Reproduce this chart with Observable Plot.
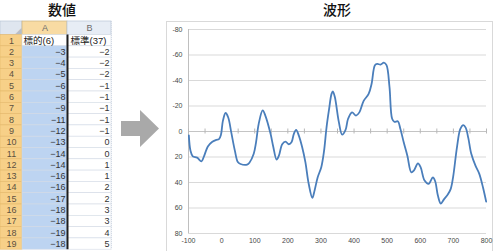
<!DOCTYPE html>
<html>
<head>
<meta charset="utf-8">
<script src="https://cdn.jsdelivr.net/npm/d3@7"></script>
<script src="https://cdn.jsdelivr.net/npm/@observablehq/plot@0.6"></script>
<style>
  body { margin: 0; background: #fff; }
  #root { position: relative; width: 500px; height: 251px; overflow: hidden; background: #fff; }
  .title { position: absolute; top: 2px; width: 60px; text-align: center; font-family: "Noto Sans CJK JP", sans-serif; font-size: 14px; line-height: 14px; font-weight: 500; color: #111; }
  #sheet { position: absolute; left: 0; top: 0; }
  #chartbox { position: absolute; left: 166px; top: 21px; width: 327px; height: 240px; box-sizing: border-box; border: 1px solid #d9d9d9; }
  #chart { position: absolute; left: 166px; top: 21px; }
  #arrow { position: absolute; left: 0; top: 0; }
</style>
</head>
<body>
<div id="root">
  <div class="title" style="left:32px">数値</div>
  <div class="title" style="left:307px">波形</div>
  <div id="sheet"></div>
  <svg id="arrow" width="500" height="251"><polygon points="121,121 140,121 140,110 159,128.5 140,147 140,136 121,136" fill="#a9a9a9"/></svg>
  <div id="chartbox"></div>
  <div id="chart"></div>
</div>
<script>
// ---- spreadsheet data ----
const rowNumbers = [1, 2, 3, 4, 5, 6, 7, 8, 9, 10, 11, 12, 13, 14, 15, 16, 17, 18, 19];
const colLetters = ["A", "B"];
const colA = ["標的(6)", -3, -4, -5, -6, -8, -9, -11, -12, -13, -14, -14, -16, -16, -17, -18, -18, -19, -18];
const colB = ["標準(37)", -2, -2, -2, -1, -1, -1, -1, -1, 0, 0, 1, 1, 2, 2, 3, 3, 4, 5];

// ---- waveform data ----
const waveX = [-99, -94, -87, -74, -61, -54, -41, -28, -16, -8, -2, 4, 12, 20, 29, 40, 49, 57, 77, 84, 97, 104, 112, 124, 132, 148, 156, 166, 173, 183, 193, 203, 211, 218, 225, 233, 243, 253, 263, 274, 281, 290, 301, 309, 317, 324, 332, 336, 342, 354, 364, 374, 382, 394, 406, 416, 429, 444, 453, 463, 470, 480, 490, 498, 507, 515, 522, 532, 540, 550, 561, 573, 581, 593, 601, 613, 625, 638, 645, 653, 662, 672, 683, 692, 699, 711, 721, 730, 737, 745, 754, 767, 778, 790, 799];
const waveY = [3, 15, 19.5, 20.5, 23.5, 20, 11.5, 8, 6.5, 6, 2.5, -8.5, -14.5, -11, 0.5, 15, 24, 25.5, 26, 24.5, 17.5, 8.5, -6, -16.5, -12.5, 2, 12, 22, 19, 10, 8, 10, 8.5, 2, -1.3, 3, 12, 24, 41, 52, 46, 36, 28, 16, -3.5, -16.5, -29.5, -31.5, -27, -7.5, 2.5, -1, -10, -15, -12.5, -15, -24, -29.5, -37.5, -52, -53, -52.5, -54, -52, -35, -10, -7.5, -8, -2, 8.5, 19, 32, 30.5, 25, 28, 38.5, 41, 36, 39, 50, 56.5, 53, 49.5, 45, 36, 12, -2, -5, -3, 5, 17.5, 27, 33, 44.5, 55];

const xTicks = [-100, 0, 100, 200, 300, 400, 500, 600, 700, 800];
const yTicks = [-80, -60, -40, -20, 0, 20, 40, 60, 80];
const axisTicks = [-100, -50, 0, 50, 100, 150, 200, 250, 300, 350, 400, 450, 500, 550, 600, 650, 700, 750, 800];

// ---- spreadsheet drawing ----
const rowsData = rowNumbers.map((r, i) => ({row: r, a: colA[i], b: colB[i]}));
const numRows = rowsData.filter(d => typeof d.a === "number");
const hdrRows = rowsData.filter(d => typeof d.a === "string");
const fmt = n => n < 0 ? "\u2212" + Math.abs(n) : String(n);
const lastRow = rowNumbers[rowNumbers.length - 1] + 1;

const sheet = Plot.plot({
  width: 112, height: 251,
  margin: 0,
  style: {fontFamily: "'Liberation Sans', 'Noto Sans CJK JP', sans-serif", fontSize: "9px", background: "transparent", overflow: "visible"},
  x: {type: "linear", domain: [0, 1, 2, 3], range: [0, 22, 67, 111], axis: null},
  y: {type: "linear", domain: [0, 1, 20], range: [21, 34.5, 249.2], axis: null},
  marks: [
    // corner
    Plot.rect([0], {x1: 0, x2: 1, y1: 0, y2: 1, fill: "#dfe6ef", stroke: "#b9c6d6", strokeWidth: 0.7}),
    Plot.text(["\u25E2"], {x: 1, y: 1, dx: -4, dy: -4, fill: "#b4bdc9", fontSize: 6}),
    // column headers
    Plot.rect(colLetters.filter(c => c === "A"), {x1: 1, x2: 2, y1: 0, y2: 1, fill: "#f8dba3", stroke: "#c9b27f", strokeWidth: 0.7}),
    Plot.rect(colLetters.filter(c => c === "B"), {x1: 2, x2: 3, y1: 0, y2: 1, fill: "#e7edf5", stroke: "#b9c6d6", strokeWidth: 0.7}),
    Plot.text(colLetters, {x: (d, i) => i + 1.5, y: 0.5, text: d => d, fill: "#6b6b6b", fontSize: 9}),
    // row headers
    Plot.rect(rowNumbers, {x1: 0, x2: 1, y1: d => d, y2: d => d + 1, fill: "#f7d088", stroke: "#e4b86a", strokeWidth: 0.6}),
    Plot.text(rowNumbers, {x: 0.5, y: d => d + 0.5, text: d => String(d), fill: "#5c5040", fontSize: 9}),
    // cells
    Plot.rect(rowsData, {x1: 1, x2: 2, y1: "row", y2: d => d.row + 1, fill: d => typeof d.a === "string" ? "#ffffff" : "#bdd4f1", stroke: "#d3dae5", strokeWidth: 0.6}),
    Plot.rect(rowsData, {x1: 2, x2: 3, y1: "row", y2: d => d.row + 1, fill: "#ffffff", stroke: "#d3dae5", strokeWidth: 0.6}),
    // header labels in row 1
    Plot.text(hdrRows, {x: 1, y: d => d.row + 0.5, text: "a", textAnchor: "start", dx: 1, fill: "#222", fontSize: 9.5}),
    Plot.text(hdrRows, {x: 2, y: d => d.row + 0.5, text: "b", textAnchor: "start", dx: 3, fill: "#222", fontSize: 9.5}),
    // numeric values
    Plot.text(numRows, {x: 2, y: d => d.row + 0.5, text: d => fmt(d.a), textAnchor: "end", dx: -2, fill: "#333"}),
    Plot.text(numRows, {x: 3, y: d => d.row + 0.5, text: d => fmt(d.b), textAnchor: "end", dx: -2, fill: "#333"}),
    // selection border on column A
    Plot.ruleX([2], {y1: 1, y2: lastRow, stroke: "#1e1e1e", strokeWidth: 2}),
    Plot.ruleX([3], {y1: 0, y2: lastRow, stroke: "#d3dae5", strokeWidth: 1, strokeDasharray: "1,1"})
  ]
});
document.getElementById("sheet").appendChild(sheet);

// ---- chart drawing ----
const wave = waveX.map((x, i) => ({x, y: waveY[i]}));
const chart = Plot.plot({
  width: 327, height: 230,
  marginLeft: 22, marginRight: 7, marginTop: 8, marginBottom: 18,
  style: {fontFamily: "'Liberation Sans', Arial, sans-serif", fontSize: "7px", color: "#474747", background: "transparent"},
  x: {domain: [-100, 800], ticks: xTicks, tickSize: 0, tickPadding: 5, label: null, tickFormat: d => String(d)},
  y: {domain: [-80, 80], reverse: true, ticks: yTicks, tickSize: 0, tickPadding: 6, label: null, tickFormat: d => String(d)},
  marks: [
    Plot.ruleY(yTicks, {stroke: "#d9d9d9", strokeWidth: 1}),
    Plot.ruleX([-100], {stroke: "#bfbfbf"}),
    Plot.ruleY([0], {stroke: "#c4c4c4"}),
    Plot.ruleX(axisTicks, {y1: 0, y2: 0, insetTop: -2.5, insetBottom: -2.5, stroke: "#b8b8b8"}),
    Plot.line(wave, {x: "x", y: "y", stroke: "#4a7ebb", strokeWidth: 1.8, curve: "catmull-rom"})
  ]
});
document.getElementById("chart").appendChild(chart);
</script>
</body>
</html>
